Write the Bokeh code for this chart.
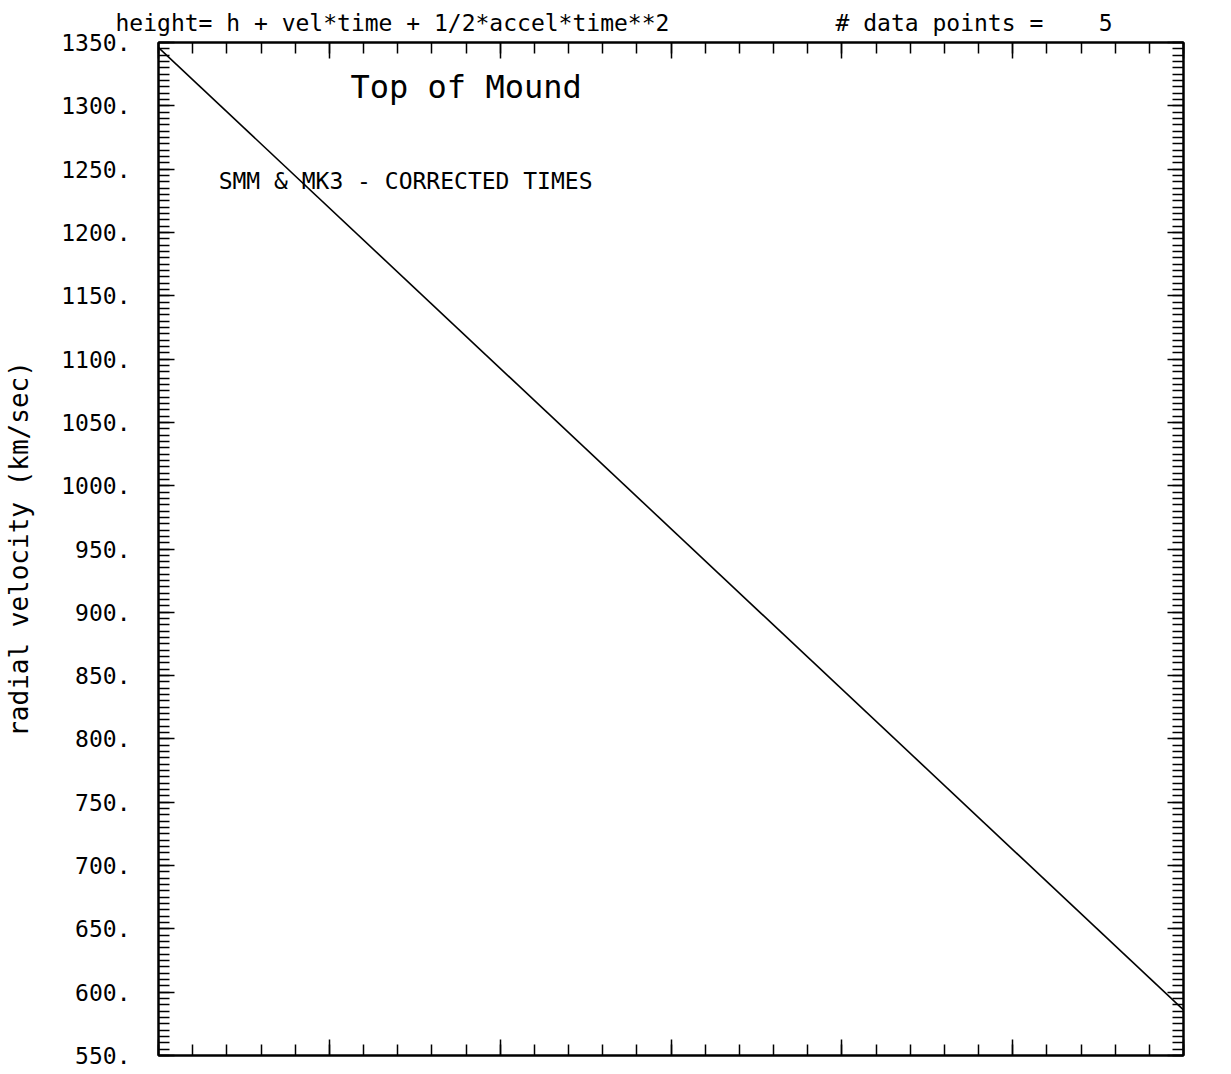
from bokeh.plotting import figure
from bokeh.models import FixedTicker, LinearAxis, Label, Range1d, CustomJSTickFormatter, Title
from bokeh.embed import file_html
from bokeh.resources import INLINE

# ---- data ----
time_pts = [0.0, 30.0]
vel_pts = [1346.0, 586.0]

y_major = list(range(550, 1351, 50))
y_minor = list(range(550, 1351, 5))
x_major = list(range(0, 31, 5))
x_minor = list(range(0, 31, 1))

header_left = "height= h + vel*time + 1/2*accel*time**2"
header_right = "# data points =    5"
y_title = "radial velocity (km/sec)"
note_top = "Top of Mound"
note_mid = "SMM & MK3 - CORRECTED TIMES"

FONT = "DejaVu Sans Mono"
FW, FH = 1025, 1013
NBSP = "\u00a0"

p = figure(
    frame_width=FW, frame_height=FH,
    min_border_left=158, min_border_right=40, min_border_top=42, min_border_bottom=18,
    x_range=Range1d(0, 30), y_range=Range1d(550, 1350),
    output_backend="svg", toolbar_location=None,
    background_fill_color="white", border_fill_color="white",
)
p.xgrid.grid_line_color = None
p.ygrid.grid_line_color = None
p.outline_line_color = "black"
p.outline_line_width = 2

def style_axis(ax, labels):
    ax.axis_line_color = "black"
    ax.axis_line_width = 2
    ax.major_tick_line_color = "black"
    ax.minor_tick_line_color = "black"
    ax.major_tick_line_width = 1.5
    ax.minor_tick_line_width = 1.5
    ax.major_tick_in = 16
    ax.major_tick_out = 0
    ax.minor_tick_in = 11
    ax.minor_tick_out = 0
    if labels:
        ax.formatter = CustomJSTickFormatter(code="return tick.toFixed(0) + '.';")
        ax.major_label_text_font = FONT
        ax.major_label_text_font_size = "23px"
        ax.major_label_text_color = "black"
        ax.major_label_standoff = 28
    else:
        ax.formatter = CustomJSTickFormatter(code="return '';")
        ax.major_label_text_font_size = "0px"
        ax.major_label_standoff = 0

# bottom / top axes
p.xaxis.ticker = FixedTicker(ticks=x_major, minor_ticks=x_minor)
style_axis(p.xaxis[0], False)
top = LinearAxis(ticker=FixedTicker(ticks=x_major, minor_ticks=x_minor))
style_axis(top, False)
p.add_layout(top, "above")

# left / right axes
p.yaxis.ticker = FixedTicker(ticks=y_major, minor_ticks=y_minor)
style_axis(p.yaxis[0], True)
p.yaxis[0].axis_label = y_title
p.yaxis[0].axis_label_text_font = FONT
p.yaxis[0].axis_label_text_font_size = "26px"
p.yaxis[0].axis_label_text_font_style = "normal"
p.yaxis[0].axis_label_text_color = "black"
p.yaxis[0].axis_label_standoff = 24
right = LinearAxis(ticker=FixedTicker(ticks=y_major, minor_ticks=y_minor))
style_axis(right, False)
p.add_layout(right, "right")

# fitted line
p.line(time_pts, vel_pts, line_color="black", line_width=1.6)

# header line as the plot title (non-breaking spaces keep the gaps in SVG)
header = header_left + NBSP * 12 + header_right.replace("    ", " " + NBSP * 3)
p.add_layout(Title(text=header, align="left", offset=-43, text_font=FONT,
                   text_font_size="23px", text_font_style="normal",
                   text_color="black", standoff=13), "above")

# notes inside the frame
p.add_layout(Label(x=5.62, y=1314.5, text=note_top, text_font=FONT,
                   text_font_size="32px", text_color="black", text_baseline="middle"))
p.add_layout(Label(x=1.76, y=1241, text=note_mid, text_font=FONT,
                   text_font_size="23px", text_color="black", text_baseline="middle"))

open("out.html", "w").write(file_html(p, INLINE))
